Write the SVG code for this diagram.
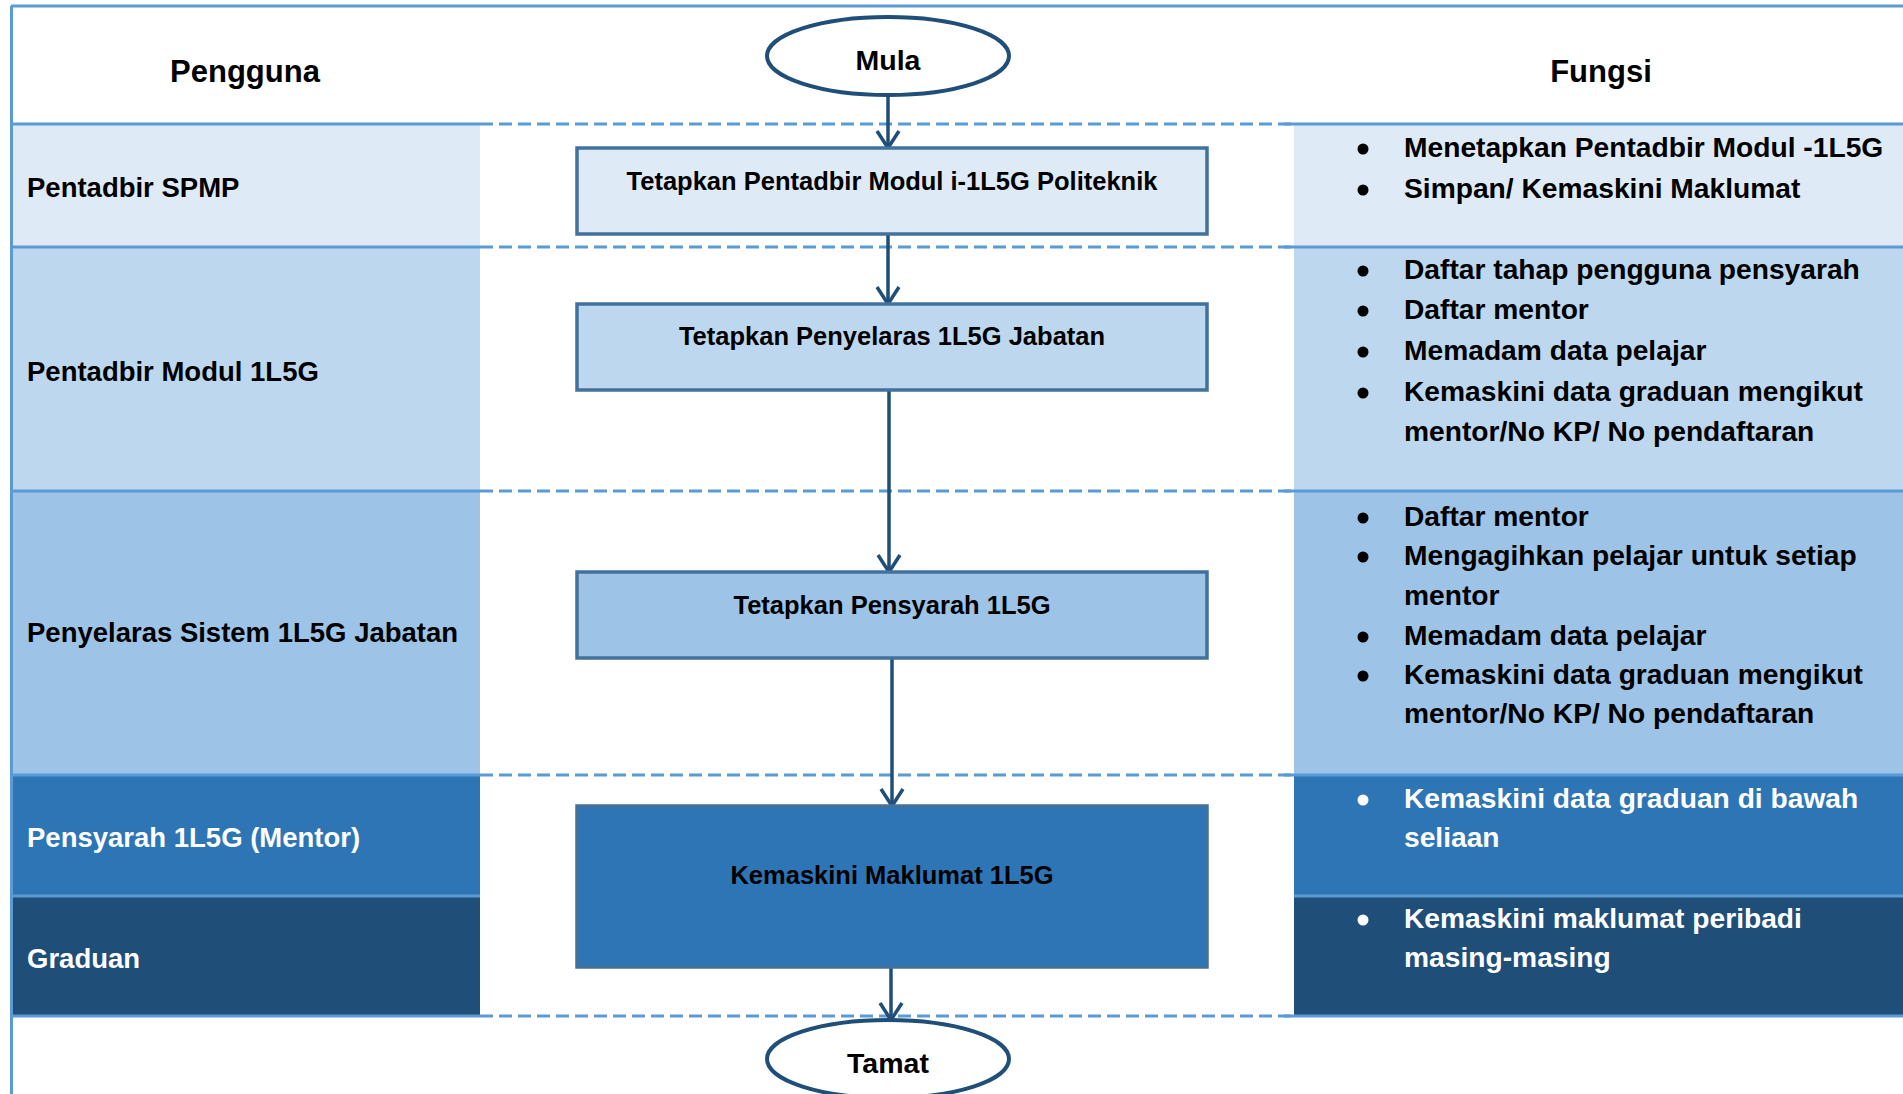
<svg xmlns="http://www.w3.org/2000/svg" width="1903" height="1094" viewBox="0 0 1903 1094">
<defs>
<style>
text{font-family:"Liberation Sans",Arial,sans-serif;font-weight:bold;fill:#000}
.hdr{font-size:31px;text-anchor:middle}
.lbl{font-size:27.5px}
.fn{font-size:28.2px}
.box{font-size:25.5px;text-anchor:middle}
.term{font-size:28.5px;text-anchor:middle}
.w{fill:#fff}
.sep{stroke:#5B9BD5;stroke-width:3;fill:none}
.dash{stroke:#5B9BD5;stroke-width:3;stroke-dasharray:13 6;fill:none}
.proc{stroke:#41719C;stroke-width:3.5}
.ell{fill:#fff;stroke:#1F4E79;stroke-width:4}
.conn{stroke:#1F4E79;stroke-width:3.5;fill:none;marker-end:url(#arr)}
.dot{fill:#000}
.dotw{fill:#fff}
</style>
<marker id="arr" markerUnits="userSpaceOnUse" markerWidth="28" markerHeight="28" viewBox="0 0 28 28" refX="20" refY="14" orient="auto">
<path d="M3 3 L20 14 L3 25" fill="none" stroke="#1F4E79" stroke-width="3.5"/>
</marker>
</defs>
<rect width="1903" height="1094" fill="#fff"/>

<g id="lanes">
<rect x="11" y="124" width="469" height="123" fill="#DEEAF6"/>
<rect x="11" y="247" width="469" height="244" fill="#BDD7EE"/>
<rect x="11" y="491" width="469" height="284" fill="#9DC3E6"/>
<rect x="11" y="775" width="469" height="121" fill="#2E75B6"/>
<rect x="11" y="896" width="469" height="120" fill="#1F4E79"/>
<rect x="1294" y="124" width="609" height="123" fill="#DEEAF6"/>
<rect x="1294" y="247" width="609" height="244" fill="#BDD7EE"/>
<rect x="1294" y="491" width="609" height="284" fill="#9DC3E6"/>
<rect x="1294" y="775" width="609" height="121" fill="#2E75B6"/>
<rect x="1294" y="896" width="609" height="120" fill="#1F4E79"/>
<path class="sep" d="M11 6 H1903 M11.5 6 V1094"/>
<path class="sep" d="M11 124 H480 M11 247 H480 M11 491 H480 M11 775 H480 M11 896 H480 M11 1016 H480"/>
<path class="sep" d="M1284 124 H1903 M1284 247 H1903 M1284 491 H1903 M1284 775 H1903 M1294 896 H1903 M1284 1016 H1903"/>
<path class="dash" d="M480 124 H1294 M480 247 H1294 M480 491 H1294 M480 775 H1294 M480 1016 H1294"/>
<text class="hdr" x="245" y="82">Pengguna</text>
<text class="hdr" x="1601" y="82">Fungsi</text>
</g>

<g id="lane-labels">
<text class="lbl" x="27" y="197">Pentadbir SPMP</text>
<text class="lbl" x="27" y="381">Pentadbir Modul 1L5G</text>
<text class="lbl" x="27" y="642">Penyelaras Sistem 1L5G Jabatan</text>
<text class="lbl w" x="27" y="847">Pensyarah 1L5G (Mentor)</text>
<text class="lbl w" x="27" y="968">Graduan</text>
</g>

<g id="functions">
<circle class="dot" cx="1363" cy="149" r="5.5"/><text class="fn" x="1404" y="157">Menetapkan Pentadbir Modul -1L5G</text>
<circle class="dot" cx="1363" cy="190" r="5.5"/><text class="fn" x="1404" y="198">Simpan/ Kemaskini Maklumat</text>

<circle class="dot" cx="1363" cy="271" r="5.5"/><text class="fn" x="1404" y="279">Daftar tahap pengguna pensyarah</text>
<circle class="dot" cx="1363" cy="311" r="5.5"/><text class="fn" x="1404" y="319">Daftar mentor</text>
<circle class="dot" cx="1363" cy="352" r="5.5"/><text class="fn" x="1404" y="360">Memadam data pelajar</text>
<circle class="dot" cx="1363" cy="393" r="5.5"/><text class="fn" x="1404" y="401">Kemaskini data graduan mengikut</text>
<text class="fn" x="1404" y="441">mentor/No KP/ No pendaftaran</text>

<circle class="dot" cx="1363" cy="518" r="5.5"/><text class="fn" x="1404" y="526">Daftar mentor</text>
<circle class="dot" cx="1363" cy="557" r="5.5"/><text class="fn" x="1404" y="565">Mengagihkan pelajar untuk setiap</text>
<text class="fn" x="1404" y="605">mentor</text>
<circle class="dot" cx="1363" cy="637" r="5.5"/><text class="fn" x="1404" y="645">Memadam data pelajar</text>
<circle class="dot" cx="1363" cy="676" r="5.5"/><text class="fn" x="1404" y="684">Kemaskini data graduan mengikut</text>
<text class="fn" x="1404" y="723">mentor/No KP/ No pendaftaran</text>

<circle class="dotw" cx="1363" cy="800" r="5.5"/><text class="fn w" x="1404" y="808">Kemaskini data graduan di bawah</text>
<text class="fn w" x="1404" y="847">seliaan</text>

<circle class="dotw" cx="1363" cy="920" r="5.5"/><text class="fn w" x="1404" y="928">Kemaskini maklumat peribadi</text>
<text class="fn w" x="1404" y="967">masing-masing</text>
</g>

<g id="connectors">
<line class="conn" x1="888" y1="96" x2="888" y2="148"/>
<line class="conn" x1="888" y1="234" x2="888" y2="304"/>
<line class="conn" x1="889" y1="390" x2="889" y2="572"/>
<line class="conn" x1="892" y1="658" x2="892" y2="806"/>
<line class="conn" x1="891" y1="967" x2="891" y2="1020"/>
</g>

<g id="node-mula">
<ellipse class="ell" cx="888" cy="56" rx="121" ry="39"/>
<text class="term" x="888" y="70">Mula</text>
</g>
<g id="node-tetapkan-pentadbir">
<rect class="proc" x="577" y="148" width="630" height="86" fill="#DEEAF6"/>
<text class="box" x="892" y="190">Tetapkan Pentadbir Modul i-1L5G Politeknik</text>
</g>
<g id="node-tetapkan-penyelaras">
<rect class="proc" x="577" y="304" width="630" height="86" fill="#BDD7EE"/>
<text class="box" x="892" y="345">Tetapkan Penyelaras 1L5G Jabatan</text>
</g>
<g id="node-tetapkan-pensyarah">
<rect class="proc" x="577" y="572" width="630" height="86" fill="#9DC3E6"/>
<text class="box" x="892" y="614">Tetapkan Pensyarah 1L5G</text>
</g>
<g id="node-kemaskini">
<rect class="proc" x="577" y="806" width="630" height="161" fill="#2E75B6" stroke-width="2.5"/>
<text class="box" x="892" y="884">Kemaskini Maklumat 1L5G</text>
</g>
<g id="node-tamat">
<ellipse class="ell" cx="888" cy="1059" rx="121" ry="39"/>
<text class="term" x="888" y="1073">Tamat</text>
</g>
</svg>
